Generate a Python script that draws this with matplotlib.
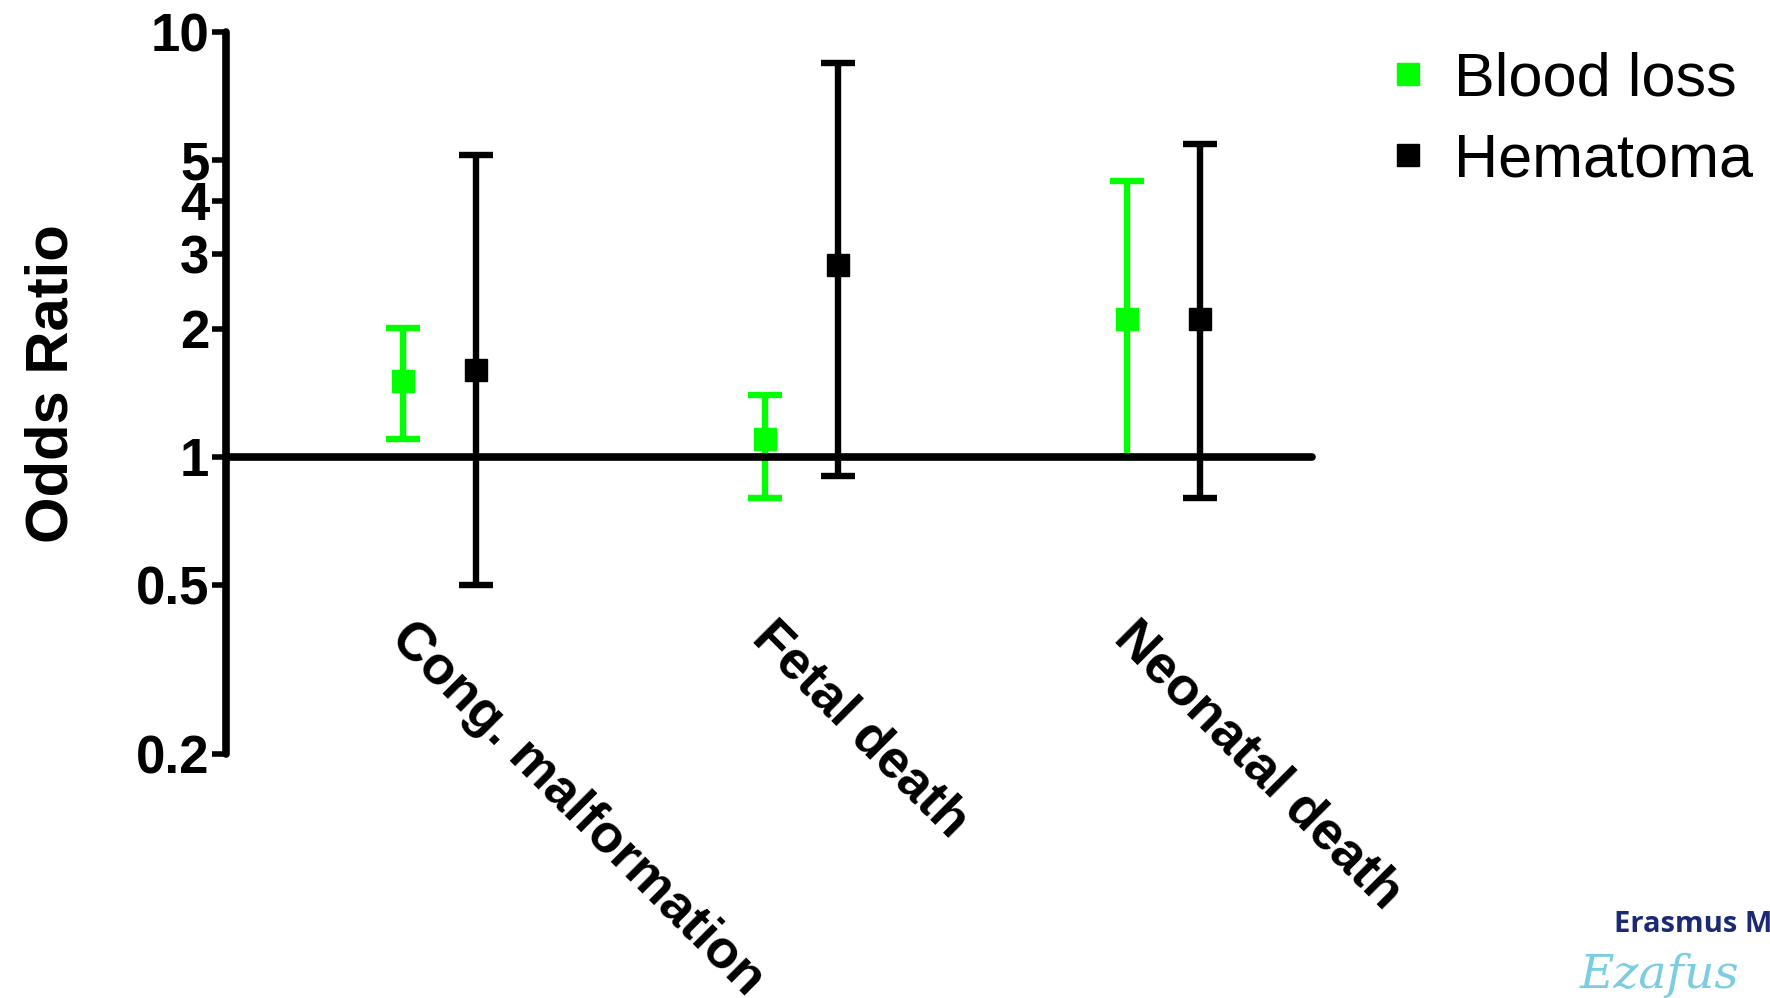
import matplotlib
matplotlib.use("Agg")
import matplotlib.pyplot as plt
from matplotlib.lines import Line2D
import numpy as np

# ---- data ----
categories = ["Cong. malformation", "Fetal death", "Neonatal death"]
series_names = ["Blood loss", "Hematoma"]
blood_or = [1.51, 1.10, 2.11]
blood_lo = [1.10, 0.80, 1.00]
blood_hi = [2.01, 1.40, 4.46]
hema_or = [1.60, 2.82, 2.11]
hema_lo = [0.50, 0.90, 0.80]
hema_hi = [5.13, 8.43, 5.45]
ytick_vals = [0.2, 0.5, 1, 2, 3, 4, 5, 10]
ytick_labels = ["0.2", "0.5", "1", "2", "3", "4", "5", "10"]

plt.rcParams['font.family'] = ['Liberation Sans', 'DejaVu Sans']

W, H = 1770, 998
fig = plt.figure(figsize=(W / 100, H / 100), dpi=100)
ax = fig.add_axes([226 / W, 1 - 754 / H, (1312 - 226) / W, (754 - 31.6) / H])

ax.set_yscale('log')
ax.set_ylim(0.2, 10)
ax.set_xlim(-0.59, 2.41)

x = np.arange(len(categories))
off = 0.1
green = '#00ff00'
colors = [green, 'black']

def draw(xs, ors, lo, hi, color, label):
    ors = np.array(ors); lo = np.array(lo); hi = np.array(hi)
    yerr = np.vstack([ors - lo, hi - ors])
    ax.errorbar(xs, ors, yerr=yerr, fmt='s', color=color, ecolor=color,
                markersize=16, markeredgecolor=color, elinewidth=4.6,
                capsize=12, capthick=4.6, label=label, zorder=2)

draw(x - off, blood_or, blood_lo, blood_hi, colors[0], series_names[0])
draw(x + off, hema_or, hema_lo, hema_hi, colors[1], series_names[1])

# spines
for s in ['top', 'right']:
    ax.spines[s].set_visible(False)
ax.spines['left'].set_linewidth(5.5)
ax.spines['bottom'].set_linewidth(5.5)
ax.spines['bottom'].set_position(('data', 1))
ax.spines['bottom'].set_capstyle('round')
ax.spines['left'].set_capstyle('round')
ax.spines['bottom'].set_zorder(3)

ax.set_yticks(ytick_vals)
ax.set_yticklabels(ytick_labels)
ax.yaxis.set_minor_locator(matplotlib.ticker.NullLocator())
ax.tick_params(axis='y', which='major', length=10, width=4, pad=2,
               labelsize=38)
for t in ax.get_yticklabels():
    t.set_fontweight('bold')

ax.set_xticks([])
ax.tick_params(axis='x', length=0)

for i, c in enumerate(categories):
    ax.annotate(c, xy=(x[i], 1), xycoords='data', xytext=(-17, -112),
                textcoords='offset points', rotation=-45, ha='left', va='top',
                rotation_mode='anchor', fontsize=38.5, fontweight='bold')

ax.set_ylabel("Odds Ratio", fontsize=43, fontweight='bold')
ax.yaxis.set_label_coords(-0.135, 0.5125)

handles = [Line2D([], [], marker='s', linestyle='none', color=c,
                  markeredgecolor=c, markersize=16) for c in colors]
leg = fig.legend(handles, series_names, loc='upper left',
                 bbox_to_anchor=(1365 / W, 1 - 27 / H),
                 frameon=False, fontsize=44, handlelength=0.6,
                 handletextpad=0.46, labelspacing=0.40, borderaxespad=0)

# logo text
fig.text(1614 / W, 1 - 925 / H, "Erasmus MC", color='#1b2a72', fontsize=21,
         fontweight='bold', family=['Open Sans', 'DejaVu Sans'], ha='left', va='center')
fig.text(1580 / W, 1 - 975 / H, "Ezafus", color='#7ccde3', fontsize=34,
         style='italic', family=['DejaVu Serif'], ha='left', va='center')

fig.savefig("out.png", dpi=100)
